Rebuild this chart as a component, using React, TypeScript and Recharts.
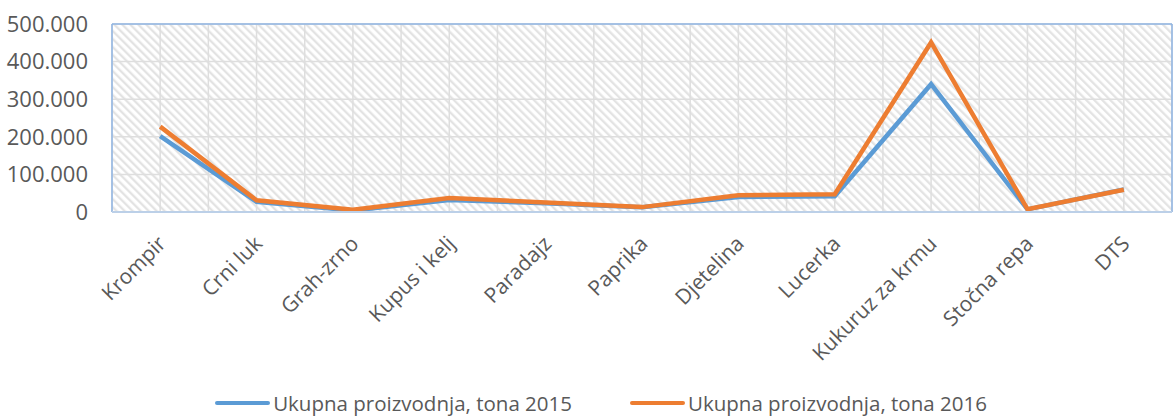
import React from 'react';
import { LineChart, Line, XAxis, YAxis, CartesianGrid, Legend } from 'recharts';

const categories = [
  'Krompir', 'Crni luk', 'Grah-zrno', 'Kupus i kelj', 'Paradajz', 'Paprika',
  'Djetelina', 'Lucerka', 'Kukuruz za krmu', 'Stočna repa', 'DTS',
];
const values2015 = [202000, 27000, 4000, 32000, 23000, 12500, 40000, 42000, 340000, 7000, 60000];
const values2016 = [227000, 31000, 6000, 37500, 25000, 13000, 44500, 47500, 451000, 7500, 59000];
const yTicks = [0, 100000, 200000, 300000, 400000, 500000];

const label2015 = 'Ukupna proizvodnja, tona 2015';
const label2016 = 'Ukupna proizvodnja, tona 2016';

const data = categories.map((name, i) => ({ name, v2015: values2015[i], v2016: values2016[i] }));

const FONT = '"Open Sans", sans-serif';
const BLUE = '#5b9bd5';
const ORANGE = '#ed7d31';

const formatY = (v: number) => (v === 0 ? '0' : v.toLocaleString('de-DE'));

function XTick(props: any) {
  const { x, y, payload } = props;
  const tx = x + 7;
  const ty = y + 31;
  return (
    <text
      x={tx}
      y={ty}
      transform={`rotate(-45, ${tx}, ${ty})`}
      textAnchor="end"
      fill="#595959"
      fontSize={21}
      fontFamily={FONT}
    >
      {payload.value}
    </text>
  );
}

function LegendContent() {
  const items = [
    { label: label2015, color: BLUE },
    { label: label2016, color: ORANGE },
  ];
  return (
    <div style={{ height: 40, display: 'flex', justifyContent: 'center', alignItems: 'flex-end', paddingLeft: 30, boxSizing: 'border-box' }}>
      {items.map((it, i) => (
        <div key={it.label} style={{ display: 'flex', alignItems: 'center', marginLeft: i ? 58 : 0 }}>
          <span style={{ display: 'inline-block', width: 55, height: 4, background: it.color, borderRadius: 2, marginRight: 3 }} />
          <span style={{ fontFamily: FONT, fontSize: 20.5, color: '#595959', lineHeight: '26px' }}>{it.label}</span>
        </div>
      ))}
    </div>
  );
}

export default function App() {
  return (
    <div style={{ position: 'absolute', left: 0, top: 0, width: 1175, height: 416, background: '#fff' }}>
      <LineChart width={1175} height={416} data={data} margin={{ top: 24, right: 3, left: 0, bottom: 0 }}>
        <defs>
          <pattern id="hatch" patternUnits="userSpaceOnUse" width="5.66" height="5.66" patternTransform="rotate(-45)">
            <rect width="5.66" height="5.66" fill="#ffffff" />
            <line x1="1.2" y1="0" x2="1.2" y2="5.66" stroke="#e2e2e2" strokeWidth="2.2" />
          </pattern>
        </defs>
        <CartesianGrid
          fill="url(#hatch)"
          fillOpacity={1}
          stroke="#dedede"
          strokeWidth={1.5}
          verticalCoordinatesGenerator={({ offset }: any) =>
            Array.from({ length: categories.length * 2 + 1 }, (_, i) => offset.left + (i * offset.width) / (categories.length * 2))
          }
        />
        <CartesianGrid
          stroke="#8fb4e3"
          strokeWidth={1.5}
          horizontalCoordinatesGenerator={({ offset }: any) => [offset.top, offset.top + offset.height]}
          verticalCoordinatesGenerator={({ offset }: any) => [offset.left, offset.left + offset.width]}
        />
        <XAxis
          dataKey="name"
          scale="band"
          interval={0}
          height={164}
          tickLine={false}
          tickSize={0}
          tick={<XTick />}
          axisLine={{ stroke: '#bcd0e8', strokeWidth: 2 }}
        />
        <YAxis
          domain={[0, 500000]}
          ticks={yTicks}
          width={112}
          axisLine={false}
          tickLine={false}
          tickSize={0}
          tickMargin={24}
          tickFormatter={formatY}
          tick={{ fill: '#595959', fontSize: 22, fontFamily: FONT }}
        />
        <Legend verticalAlign="bottom" content={<LegendContent />} />
        <Line
          dataKey="v2015"
          name={label2015}
          stroke={BLUE}
          strokeWidth={4.5}
          dot={false}
          isAnimationActive={false}
        />
        <Line
          dataKey="v2016"
          name={label2016}
          stroke={ORANGE}
          strokeWidth={4.5}
          dot={false}
          isAnimationActive={false}
        />
      </LineChart>
    </div>
  );
}
